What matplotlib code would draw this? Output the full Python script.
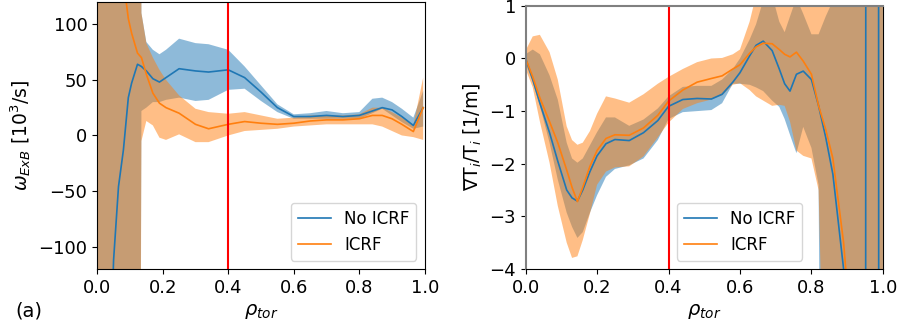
import numpy as np
import matplotlib
matplotlib.use("Agg")
import matplotlib.pyplot as plt

# ---- panel (a): E x B shearing rate ----
rho_a = [0.0, 0.03, 0.05, 0.065, 0.08, 0.095, 0.105, 0.123, 0.135, 0.15, 0.17, 0.19,
         0.21, 0.25, 0.30, 0.34, 0.40, 0.45, 0.50, 0.55, 0.60, 0.65, 0.70, 0.75,
         0.80, 0.84, 0.87, 0.90, 0.93, 0.965, 0.995]
w_noicrf = [-600, -300, -112, -46, -13, 34, 47, 64, 62, 58, 51, 48,
            52, 60, 58, 57, 59, 52, 39, 25, 17, 17, 18, 17,
            18, 22, 25, 23, 17, 9, 25]
w_noicrf_hi = [1000, 1000, 1000, 1000, 1000, 1000, 1000, 1000, 110, 84, 77, 73,
               77, 87, 83, 82, 77, 62, 45, 28, 19, 20, 22, 20,
               21, 33, 34, 30, 24, 16, 40]
w_noicrf_lo = [-1000, -1000, -1000, -1000, -1000, -1000, -1000, -1000, 22, 25, 30, 30,
               32, 34, 31, 32, 41, 42, 31, 21, 15, 15, 15, 15,
               15, 20, 24, 18, 12, 6, 8]
w_icrf = [400, 300, 250, 200, 140, 105, 92, 74, 70, 55, 38, 29,
          25, 20, 10, 6, 10, 12.5, 11, 10, 11, 13, 14, 14,
          15, 18, 18, 15, 10, 3.5, 25]
w_icrf_hi = [1000, 1000, 1000, 1000, 1000, 1000, 1000, 1000, 110, 83, 70, 59,
             50, 36, 24, 21, 19.5, 21, 18, 15, 16, 18, 18, 18,
             19, 25, 25, 21, 16, 9, 52]
w_icrf_lo = [-1000, -1000, -1000, -1000, -1000, -1000, -1000, -1000, -5, 13, 9, -2,
             -4, 1, -6, -6, 0, 4, 5, 6, 8, 9, 10, 10,
             10, 10, 8, 4, 0, -1.5, -4]

# ---- panel (b): normalised ion temperature gradient ----
rho_b = [0.0, 0.02, 0.04, 0.067, 0.09, 0.115, 0.13, 0.145, 0.16, 0.18, 0.2, 0.225,
         0.25, 0.29, 0.33, 0.37, 0.40, 0.44, 0.48, 0.52, 0.55, 0.58, 0.60, 0.627,
         0.645, 0.665, 0.69, 0.71, 0.725, 0.74, 0.758, 0.777, 0.80, 0.82, 0.84,
         0.86, 0.89, 0.92, 0.951, 0.953, 0.987, 0.989, 1.0]
g_noicrf = [0, -0.4, -0.85, -1.41, -1.95, -2.5, -2.65, -2.71, -2.5, -2.15, -1.85, -1.62,
            -1.54, -1.56, -1.41, -1.18, -0.91, -0.78, -0.76, -0.77, -0.68, -0.45, -0.27, 0.05,
            0.25, 0.33, 0.15, -0.2, -0.48, -0.62, -0.3, -0.24, -0.4, -0.9, -1.5,
            -2.2, -4.0, -8, -20, 20, 20, -20, -20]
g_noicrf_hi = [0.08, 0.17, 0.08, -0.32, -0.78, -1.6, -1.9, -1.98, -1.9, -1.65, -1.4, -1.12,
               -1.12, -1.28, -1.16, -0.95, -0.72, -0.54, -0.52, -0.52, -0.4, -0.2, 0.0, 0.36,
               0.65, 1.1, 1.2, 0.7, 0.5, 0.8, 1.15, 0.85, 0.46, 0.46, 0.8,
               1.1, 20, 20, 20, 20, 20, 20, 20]
g_noicrf_lo = [-0.1, -0.45, -0.9, -1.6, -2.3, -2.93, -3.2, -3.41, -3.3, -2.93, -2.6, -2.25,
               -2.1, -2.03, -1.9, -1.55, -1.15, -1.02, -1.0, -0.98, -0.85, -0.48, -0.48, -0.5,
               -0.55, -0.62, -0.8, -0.92, -1.15, -1.45, -1.8, -1.3, -1.7, -2.4, -20,
               -20, -20, -20, -20, -20, -20, -20, -20]
g_icrf = [0, -0.35, -0.75, -1.2, -1.6, -2.12, -2.45, -2.72, -2.45, -2.05, -1.75, -1.52,
          -1.45, -1.46, -1.32, -1.08, -0.81, -0.6, -0.45, -0.38, -0.33, -0.2, -0.12, 0.1,
          0.22, 0.29, 0.28, 0.17, 0.08, 0.03, 0.12, -0.05, -0.3, -0.9, -1.35,
          -1.9, -3.5, -6, -10, -10, -10, -10, -10]
g_icrf_hi = [0.15, 0.42, 0.45, 0.12, -0.4, -1.29, -1.55, -1.64, -1.6, -1.38, -1.05, -0.72,
             -0.76, -0.84, -0.68, -0.48, -0.35, -0.2, -0.07, 0.0, 0.01, 0.08, 0.17, 0.7,
             1.2, 20, 20, 20, 20, 20, 20, 20, 20, 20, 20,
             20, 20, 20, 20, 20, 20, 20, 20]
g_icrf_lo = [-0.2, -0.55, -1.2, -1.98, -2.8, -3.5, -3.79, -3.76, -3.45, -2.95, -2.4, -2.15,
             -2.07, -2.05, -1.86, -1.5, -1.22, -0.96, -0.85, -0.78, -0.7, -0.5, -0.47, -0.6,
             -0.72, -0.8, -0.9, -0.88, -0.9, -1.2, -1.75, -1.85, -1.9, -2.5, -8,
             -20, -20, -20, -20, -20, -20, -20, -20]

labels = ['No ICRF', 'ICRF']
blue, orange = '#1f77b4', '#ff7f0e'

plt.rcParams['font.size'] = 13

fig = plt.figure(figsize=(9, 3.26), dpi=100)
ax1 = fig.add_axes([0.108, 0.175, 0.364, 0.819])
ax2 = fig.add_axes([0.584, 0.175, 0.397, 0.807])

# panel (a)
ax1.fill_between(rho_a, w_noicrf_lo, w_noicrf_hi, color=blue, alpha=0.5, lw=0)
ax1.plot(rho_a, w_noicrf, color=blue, lw=1.2, label=labels[0])
ax1.fill_between(rho_a, w_icrf_lo, w_icrf_hi, color=orange, alpha=0.5, lw=0)
ax1.plot(rho_a, w_icrf, color=orange, lw=1.2, label=labels[1])
ax1.axvline(0.4, color='red', lw=1.5)
ax1.set_xlim(0, 1)
ax1.set_ylim(-120, 120)
ax1.set_xlabel(r'$\rho_{tor}$', fontsize=14)
ax1.set_ylabel(r'$\omega_{ExB}$ [10$^3$/s]', fontsize=13.5)
ax1.legend(loc='lower right', fontsize=12)

# panel (b)
ax2.fill_between(rho_b, g_noicrf_lo, g_noicrf_hi, color=blue, alpha=0.5, lw=0)
ax2.plot(rho_b, g_noicrf, color=blue, lw=1.2, label=labels[0])
ax2.fill_between(rho_b, g_icrf_lo, g_icrf_hi, color=orange, alpha=0.5, lw=0)
ax2.plot(rho_b, g_icrf, color=orange, lw=1.2, label=labels[1])
ax2.axvline(0.4, color='red', lw=1.5)
ax2.set_xlim(0, 1)
ax2.set_ylim(-4, 1)
ax2.set_xlabel(r'$\rho_{tor}$', fontsize=14)
ax2.set_ylabel(r'$\nabla$T$_i$/T$_i$ [1/m]', fontsize=13.5)
ax2.legend(loc='lower left', bbox_to_anchor=(0.40, 0.0), fontsize=12)
for side in ['top', 'left']:
    ax2.spines[side].set_color('#808080')
    ax2.spines[side].set_linewidth(1.5)

fig.text(0.017, 0.03, '(a)', fontsize=14)

fig.savefig('out.png', dpi=100)
